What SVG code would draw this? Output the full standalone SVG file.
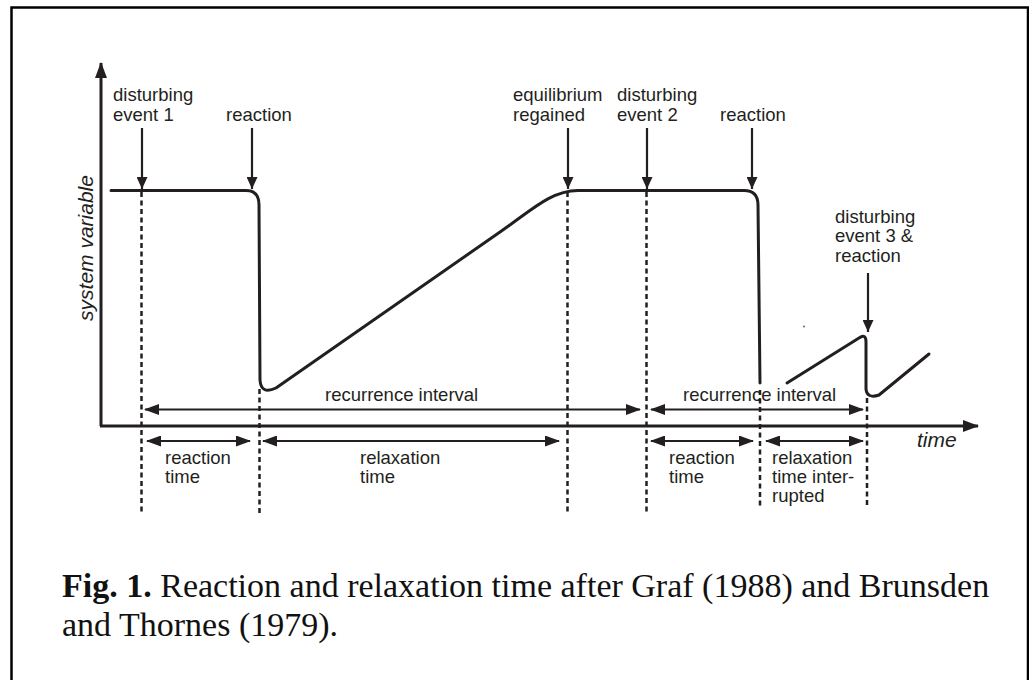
<svg xmlns="http://www.w3.org/2000/svg" width="1029" height="680" viewBox="0 0 1029 680">
<defs>
<marker id="ah" markerUnits="userSpaceOnUse" markerWidth="15" markerHeight="11" refX="14" refY="5.5" orient="auto-start-reverse"><path d="M0,0 L15,5.5 L0,11 Z" fill="#231f20"/></marker>
<marker id="dh" markerUnits="userSpaceOnUse" markerWidth="12" markerHeight="11" refX="12" refY="5.5" orient="auto"><path d="M0,0 L12,5.5 L0,11 Z" fill="#231f20"/></marker>
<marker id="ax" markerUnits="userSpaceOnUse" markerWidth="16" markerHeight="12" refX="15" refY="6" orient="auto"><path d="M0,0 L16,6 L0,12 Z" fill="#231f20"/></marker>
</defs>
<style>
.lbl{font-family:"Liberation Sans",Arial,sans-serif;font-size:18.5px;fill:#231f20}
.ital{font-style:italic;font-size:21px}
.curve{fill:none;stroke:#231f20;stroke-width:3;stroke-linejoin:round;stroke-linecap:round}
.axis{fill:none;stroke:#231f20;stroke-width:3}
.dash{fill:none;stroke:#231f20;stroke-width:2.5;stroke-dasharray:5 3.5}
.arr{fill:none;stroke:#231f20;stroke-width:2.2}
.cap{font-family:"Liberation Serif","Times New Roman",serif;font-size:34px;fill:#111}
</style>
<rect x="0" y="0" width="1029" height="680" fill="#fff"/>
<rect x="11.5" y="7.5" width="1016.5" height="700" fill="none" stroke="#000" stroke-width="2.5"/>

<g id="axes">
<path class="axis" d="M101,426 V63" marker-end="url(#ax)"/>
<path class="axis" d="M100,426 H978" marker-end="url(#ax)"/>
</g>

<g id="curve">
<path class="curve" d="M111,190.5 H246 Q259,190.5 259,205 L260,380 Q261,395 276,388 L500,232 C532,210 550,191 578,190.5 H744 Q758,190.5 758,205 L760,383"/>
<path class="curve" d="M787,383 L859,338 Q866,333 866,342 L866,389 Q867,399 879,395 L929,354"/>
<circle cx="804" cy="326.5" r="0.9" fill="#555"/>
</g>

<g id="guides">
<path class="dash" d="M141.5,192 V514"/>
<path class="dash" d="M259.5,389 V516"/>
<path class="dash" d="M567.5,192 V514"/>
<path class="dash" d="M646.5,192 V515"/>
<path class="dash" d="M760,390 V506"/>
<path class="dash" d="M867,398 V507"/>
</g>

<g id="connectors">
<path class="arr" d="M142,128 V189" marker-end="url(#dh)"/>
<path class="arr" d="M252,128 V189" marker-end="url(#dh)"/>
<path class="arr" d="M568,128 V189" marker-end="url(#dh)"/>
<path class="arr" d="M647,128 V189" marker-end="url(#dh)"/>
<path class="arr" d="M752,128 V189" marker-end="url(#dh)"/>
<path class="arr" d="M868,273 V332" marker-end="url(#dh)"/>
<path class="arr" d="M145,409.5 H640" marker-start="url(#ah)" marker-end="url(#ah)"/>
<path class="arr" d="M651,409.5 H863" marker-start="url(#ah)" marker-end="url(#ah)"/>
<path class="arr" d="M147,441 H250" marker-start="url(#ah)" marker-end="url(#ah)"/>
<path class="arr" d="M263,441 H559" marker-start="url(#ah)" marker-end="url(#ah)"/>
<path class="arr" d="M651,441 H753" marker-start="url(#ah)" marker-end="url(#ah)"/>
<path class="arr" d="M766,441 H863" marker-start="url(#ah)" marker-end="url(#ah)"/>
</g>

<g id="label-disturbing1"><text class="lbl" x="113" y="101">disturbing</text><text class="lbl" x="113" y="121">event 1</text></g>
<g id="label-reaction1"><text class="lbl" x="226" y="121">reaction</text></g>
<g id="label-equilibrium"><text class="lbl" x="513" y="101">equilibrium</text><text class="lbl" x="513" y="121">regained</text></g>
<g id="label-disturbing2"><text class="lbl" x="617" y="101">disturbing</text><text class="lbl" x="617" y="121">event 2</text></g>
<g id="label-reaction2"><text class="lbl" x="720" y="121">reaction</text></g>
<g id="label-disturbing3"><text class="lbl" x="835" y="223">disturbing</text><text class="lbl" x="835" y="242">event 3 &amp;</text><text class="lbl" x="835" y="262">reaction</text></g>
<g id="label-recurrence1"><text class="lbl" x="325" y="401">recurrence interval</text></g>
<g id="label-recurrence2"><text class="lbl" x="683" y="401">recurrence interval</text></g>
<g id="label-reactiontime1"><text class="lbl" x="165" y="464">reaction</text><text class="lbl" x="165" y="483">time</text></g>
<g id="label-relaxationtime"><text class="lbl" x="360" y="464">relaxation</text><text class="lbl" x="360" y="483">time</text></g>
<g id="label-reactiontime2"><text class="lbl" x="669" y="464">reaction</text><text class="lbl" x="669" y="483">time</text></g>
<g id="label-relaxint"><text class="lbl" x="772" y="464">relaxation</text><text class="lbl" x="772" y="483">time inter-</text><text class="lbl" x="772" y="502">rupted</text></g>
<g id="label-time"><text class="lbl ital" x="917" y="447">time</text></g>
<g id="label-sysvar"><text class="lbl ital" x="0" y="0" text-anchor="middle" transform="translate(93,248) rotate(-90)">system variable</text></g>

<g id="caption">
<text class="cap" x="62" y="597"><tspan font-weight="bold">Fig. 1.</tspan> <tspan>Reaction and relaxation time after Graf (1988) and Brunsden</tspan></text>
<text class="cap" x="62" y="636">and Thornes (1979).</text>
</g>
</svg>
